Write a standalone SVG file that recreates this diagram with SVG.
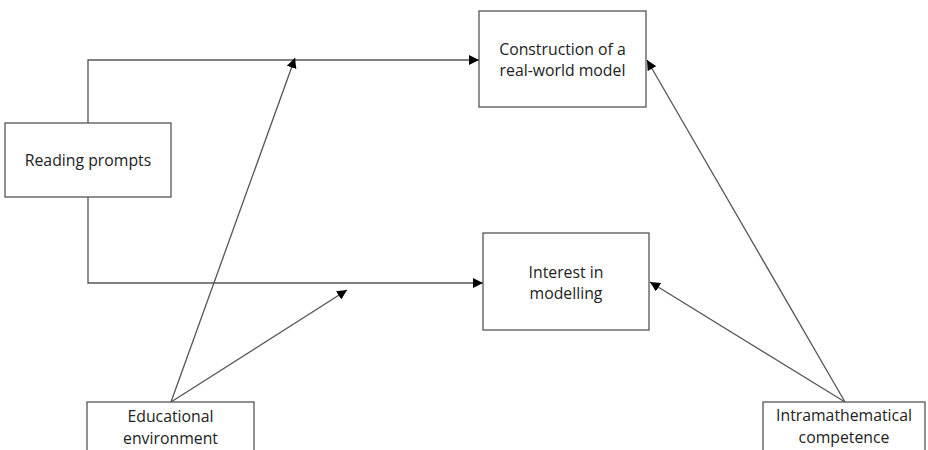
<svg xmlns="http://www.w3.org/2000/svg" width="928" height="450" viewBox="0 0 928 450">
<style>
.box{fill:#fff;stroke:#555;stroke-width:1.3}
.ln{fill:none;stroke:#555;stroke-width:1.3}
text{font-family:"Open Sans","Liberation Sans",sans-serif;font-size:15.8px;fill:#222;text-anchor:middle}
</style>
<defs>
<marker id="ah" viewBox="0 0 10 10" refX="10" refY="5" markerWidth="10" markerHeight="10" markerUnits="userSpaceOnUse" orient="auto">
<path d="M0,0 L10,5 L0,10 z" fill="#000"/>
</marker>
</defs>
<g id="connectors">
<path class="ln" d="M88,123 V60 H479" marker-end="url(#ah)"/>
<path class="ln" d="M88,197 V283 H483" marker-end="url(#ah)"/>
<path class="ln" d="M171,402 L295,58" marker-end="url(#ah)"/>
<path class="ln" d="M171,402 L347,290" marker-end="url(#ah)"/>
<path class="ln" d="M845,402 L647,60" marker-end="url(#ah)"/>
<path class="ln" d="M845,402 L650,282" marker-end="url(#ah)"/>
</g>
<g id="construction">
<rect class="box" x="479" y="11" width="167" height="96"/>
<text x="562.5" y="55">Construction of a</text>
<text x="562.5" y="76">real-world model</text>
</g>
<g id="reading">
<rect class="box" x="5" y="123" width="166" height="74"/>
<text x="88" y="166">Reading prompts</text>
</g>
<g id="interest">
<rect class="box" x="483" y="233" width="166" height="97"/>
<text x="566" y="278">Interest in</text>
<text x="566" y="299">modelling</text>
</g>
<g id="educational">
<rect class="box" x="87" y="402" width="167" height="60"/>
<text x="170.5" y="422">Educational</text>
<text x="170.5" y="444">environment</text>
</g>
<g id="intramath">
<rect class="box" x="763" y="402" width="162" height="60"/>
<text x="844" y="421">Intramathematical</text>
<text x="844" y="443">competence</text>
</g>
</svg>
